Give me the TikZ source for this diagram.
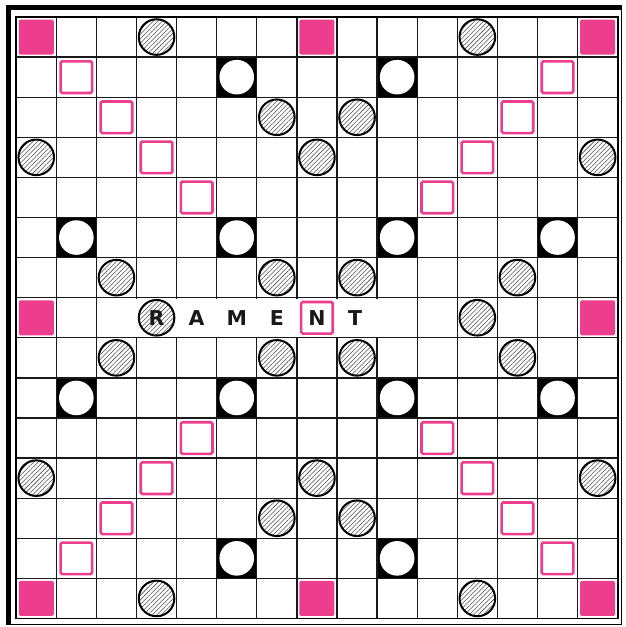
\documentclass[tikz,border=0pt]{standalone}
\usepackage{fontspec}
\setmainfont{Liberation Sans}
\newfontfamily\tilefont{DejaVu Sans}
\usetikzlibrary{patterns.meta}
\definecolor{pinkp}{RGB}{236,62,140}
\definecolor{hatchc}{RGB}{80,80,80}
\tikzset{
  gridline/.style={line width=1.3pt, draw=black!90},
  twsq/.style={fill=pinkp, rounded corners=1.5pt},
  dwsq/.style={draw=pinkp, line width=2.6pt, rounded corners=1.5pt},
  dlcirc/.style={draw=black, line width=2pt, pattern={Lines[angle=45,distance=3.2pt,line width=0.55pt]}, pattern color=hatchc},
  tlcirc/.style={fill=white},
  tile/.style={font=\tilefont\bfseries\fontsize{20.5}{20.5}\selectfont, inner sep=0pt, text=black!90}
}
\begin{document}
\begin{tikzpicture}[x=1pt,y=-1pt]
\useasboundingbox[fill=white] (0,0) rectangle (626,627);
% outer frame
\draw[line width=1.3pt] (8.5,624.3) -- (621.8,624.3) -- (621.8,7.5);
\draw[line width=4.6pt] (6.2,7.5) -- (621.8,7.5);
\draw[line width=4.6pt] (8.5,5.2) -- (8.5,625);
\begin{scope}[shift={(16.2,17)}]
\begin{scope}[x=40.1pt,y=-40.1pt]
% triple letter black cells
\foreach \r/\c in {1/5,1/9,5/1,5/5,5/9,5/13,9/1,9/5,9/9,9/13,13/5,13/9}
  \fill[black] (\c,\r) rectangle (\c+1,\r+1);
% triple word
\foreach \r/\c in {0/0,0/7,0/14,7/0,7/14,14/0,14/7,14/14}
  \fill[twsq] (\c+0.5,\r+0.5) +(-17.5pt,-17.5pt) rectangle +(17.5pt,17.5pt);
% grid
\foreach \i in {1,...,14} {
  \draw[gridline] (\i,0) -- (\i,15);
  \draw[gridline] (0,\i) -- (15,\i);
}
\draw[line width=1.8pt] (0,0) rectangle (15,15);
% triple letter white circles
\foreach \r/\c in {1/5,1/9,5/1,5/5,5/9,5/13,9/1,9/5,9/9,9/13,13/5,13/9}
  \fill[tlcirc] (\c+0.5,\r+0.5) circle[radius=17.3pt];
% word strip
\fill[white] (2.97,7.03) rectangle (9.03,7.97);
% double letter
\foreach \r/\c in {0/3,0/11,2/6,2/8,3/0,3/7,3/14,6/2,6/6,6/8,6/12,7/3,7/11,8/2,8/6,8/8,8/12,11/0,11/7,11/14,12/6,12/8,14/3,14/11}
  \draw[dlcirc] (\c+0.5,\r+0.5) circle[radius=17.8pt];
% double word
\foreach \r/\c in {1/1,2/2,3/3,4/4,1/13,2/12,3/11,4/10,10/4,11/3,12/2,13/1,10/10,11/11,12/12,13/13,7/7}
  \draw[dwsq] (\c+0.5,\r+0.5) +(-15.8pt,-15.8pt) rectangle +(15.8pt,15.8pt);
% letters
\node[tile] (lR) at (3.5,7.5) {R};
\node[tile] (lA) at (4.5,7.5) {A};
\node[tile] (lM) at (5.5,7.5) {M};
\node[tile] (lE) at (6.5,7.5) {E};
\node[tile] (lN) at (7.5,7.5) {N};
\node[tile] (lT) at (8.45,7.5) {T};
\end{scope}
\end{scope}
\end{tikzpicture}
\end{document}
